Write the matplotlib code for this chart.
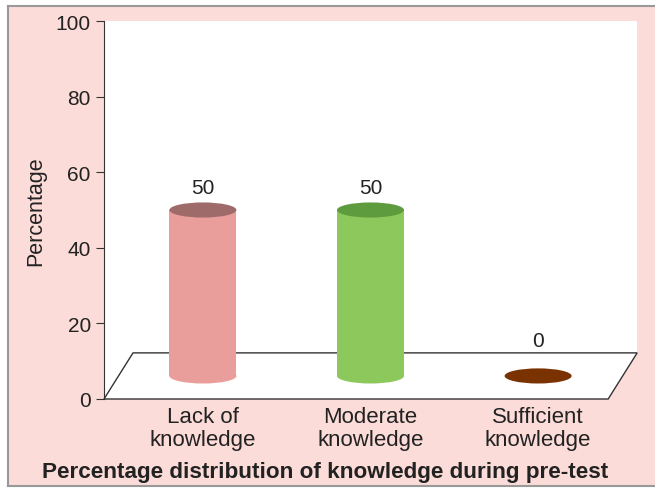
import matplotlib.pyplot as plt
from matplotlib.patches import Rectangle, Ellipse, Polygon

plt.rcParams['font.family'] = ['Liberation Sans', 'DejaVu Sans']

# data
categories = ['Lack of\nknowledge', 'Moderate\nknowledge', 'Sufficient\nknowledge']
values = [50, 50, 0]
body_colors = ['#ea9e9c', '#8dc85c', '#7a3300']
top_colors = ['#9e6b6a', '#5e9a3e', '#7a3300']

pink = '#fbdcd8'
fig = plt.figure(figsize=(6.55, 4.89), dpi=100)
fig.patch.set_facecolor('white')

# pink panel with grey border
fig.patches.append(Rectangle((8 / 655, 2 / 489), 1, 480 / 489, transform=fig.transFigure,
                             facecolor=pink, edgecolor='none', zorder=-2))
fig.add_artist(plt.Line2D([8 / 655, 1], [482 / 489, 482 / 489], color='#999999', lw=1.5))
fig.add_artist(plt.Line2D([8 / 655, 8 / 655], [2 / 489, 482 / 489], color='#999999', lw=1.5))
fig.add_artist(plt.Line2D([8 / 655, 1], [2 / 489, 2 / 489], color='#999999', lw=1.5))

ax = fig.add_axes([104 / 655, 89 / 489, 533 / 655, 378 / 489])
ax.set_facecolor('white')
ax.set_xlim(-0.59, 2.59)
ax.set_ylim(0, 100)

floor_depth = 12.2
shift = 0.173
x0, x1 = -0.59, 2.418
# pink corner to the right of the floor
ax.add_patch(Polygon([(x1, 0), (2.59, 0), (2.59, floor_depth)], closed=True,
                     facecolor=pink, edgecolor='none', zorder=1))
# floor
ax.add_patch(Polygon([(x0, 0), (x1, 0), (x1 + shift, floor_depth), (x0 + shift, floor_depth)],
                     closed=True, facecolor='white', edgecolor='#333333', lw=1, zorder=2,
                     clip_on=False))

w = 0.4
eh = 4.0
base = 6.1
for i, (v, bc, tc) in enumerate(zip(values, body_colors, top_colors)):
    if v > 0:
        ax.add_patch(Ellipse((i, base), w, eh, facecolor=bc, edgecolor='none', zorder=3))
        ax.add_patch(Rectangle((i - w / 2, base), w, v - base, facecolor=bc, edgecolor='none', zorder=3))
        ax.add_patch(Ellipse((i, v), w, eh, facecolor=tc, edgecolor='none', zorder=4))
    else:
        ax.add_patch(Ellipse((i, base), w, eh, facecolor=tc, edgecolor='none', zorder=4))
    ax.text(i, max(v, 9.5) + 6, str(v), ha='center', va='center', fontsize=15, color='#222222')

for s in ['top', 'right', 'bottom']:
    ax.spines[s].set_visible(False)
ax.spines['left'].set_color('#333333')
ax.set_yticks([0, 20, 40, 60, 80, 100])
ax.tick_params(axis='y', labelsize=15, length=6, color='#333333', labelcolor='#222222')
ax.set_xticks(range(len(categories)))
ax.set_xticklabels(categories, fontsize=16, color='#222222', linespacing=1.13)
ax.tick_params(axis='x', length=0, pad=5)
ax.set_ylabel('Percentage', fontsize=15.5, color='#222222', labelpad=7)

fig.text(325 / 655, 16 / 489, 'Percentage distribution of knowledge during pre-test',
         ha='center', va='center', fontsize=16.2, fontweight='bold', color='#222222')

fig.savefig('out.png', dpi=100)
